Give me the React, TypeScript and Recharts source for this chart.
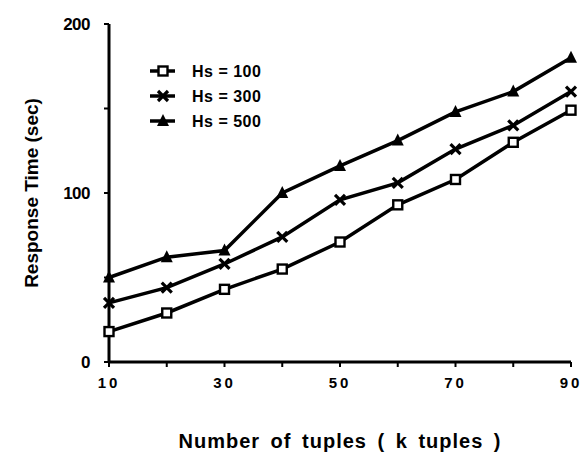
import { Legend, Line, LineChart, XAxis, YAxis } from "recharts";

const tuples = [10, 20, 30, 40, 50, 60, 70, 80, 90];
const hs100 = [18, 29, 43, 55, 71, 93, 108, 130, 149];
const hs300 = [35, 44, 58, 74, 96, 106, 126, 140, 160];
const hs500 = [50, 62, 66, 100, 116, 131, 148, 160, 180];
const xTicks = [10, 20, 30, 40, 50, 60, 70, 80, 90];
const xLabels = [10, 30, 50, 70, 90];
const yTicks = [0, 50, 100, 150, 200];
const yLabels = [0, 100, 200];
const seriesNames = ["Hs = 100", "Hs = 300", "Hs = 500"];

const rows = tuples.map((t, i) => ({ t, a: hs100[i], b: hs300[i], c: hs500[i] }));

const font = "'Liberation Sans', Arial, sans-serif";

function Square({ cx, cy }: any) {
  return <rect x={cx - 4.5} y={cy - 4.5} width={9} height={9} fill="#fff" stroke="#000" strokeWidth={2.4} />;
}

function Cross({ cx, cy }: any) {
  return (
    <g stroke="#000" strokeWidth={3.2}>
      <line x1={cx - 5} y1={cy - 5} x2={cx + 5} y2={cy + 5} />
      <line x1={cx - 5} y1={cy + 5} x2={cx + 5} y2={cy - 5} />
    </g>
  );
}

function Tri({ cx, cy }: any) {
  return <polygon points={`${cx},${cy - 7} ${cx - 6},${cy + 5} ${cx + 6},${cy + 5}`} fill="#000" />;
}

const markers = [Square, Cross, Tri];

function LegendBox() {
  return (
    <svg width={150} height={70}>
      {seriesNames.map((n, i) => {
        const M = markers[i];
        const y = 10 + i * 25;
        return (
          <g key={n}>
            <line x1={1} x2={26} y1={y} y2={y} stroke="#000" strokeWidth={3.5} />
            <M cx={14} cy={y} />
            <text x={43} y={y + 6} fontFamily={font} fontWeight="bold" fontSize={16} letterSpacing={0.5}>
              {n}
            </text>
          </g>
        );
      })}
    </svg>
  );
}

export default function App() {
  return (
    <div style={{ position: "absolute", left: 0, top: 0, background: "#fff" }}>
      <LineChart width={582} height={457} data={rows} margin={{ top: 24, right: 11, left: 0, bottom: 0 }}>
        <XAxis
          dataKey="t"
          type="number"
          domain={[10, 90]}
          ticks={xTicks}
          tickFormatter={(v: number) => (xLabels.includes(v) ? String(v) : "")}
          tick={{ fill: "#000", fontFamily: font, fontWeight: "bold", fontSize: 15, letterSpacing: 3, dy: 8 }}
          tickSize={5}
          axisLine={{ stroke: "#000", strokeWidth: 3 }}
          tickLine={{ stroke: "#000", strokeWidth: 2 }}
          height={95}
          label={{
            value: "Number of tuples ( k tuples )",
            position: "insideBottom",
            offset: 9,
            fill: "#000",
            fontFamily: font,
            fontWeight: "bold",
            fontSize: 20,
            letterSpacing: 1,
            wordSpacing: 4,
          }}
        />
        <XAxis xAxisId="top" orientation="top" type="number" domain={[10, 90]} dataKey="t" tick={false} tickLine={false} height={0} axisLine={{ stroke: "#000", strokeWidth: 3 }} />
        <YAxis
          type="number"
          domain={[0, 200]}
          ticks={yTicks}
          tickFormatter={(v: number) => (yLabels.includes(v) ? String(v) : "")}
          tick={{ fill: "#000", fontFamily: font, fontWeight: "bold", fontSize: 17, letterSpacing: -0.5, dx: -12 }}
          tickSize={5}
          axisLine={{ stroke: "#000", strokeWidth: 3 }}
          tickLine={{ stroke: "#000", strokeWidth: 2 }}
          width={109}
          label={{
            value: "Response Time (sec)",
            angle: -90,
            position: "insideLeft",
            offset: 31,
            style: { textAnchor: "middle" },
            fill: "#000",
            fontFamily: font,
            fontWeight: "bold",
            fontSize: 19,
          }}
        />
        <YAxis yAxisId="right" orientation="right" domain={[0, 200]} tick={false} tickLine={false} width={0} axisLine={{ stroke: "#000", strokeWidth: 3 }} />
        <Legend
          verticalAlign="middle"
          align="center"
          layout="vertical"
          wrapperStyle={{ left: 149, top: 61, width: 150 }}
          content={() => <LegendBox />}
        />
        <Line dataKey="a" name={seriesNames[0]} stroke="#000" strokeWidth={3.5} dot={<Square />} isAnimationActive={false} />
        <Line dataKey="b" name={seriesNames[1]} stroke="#000" strokeWidth={3.5} dot={<Cross />} isAnimationActive={false} />
        <Line dataKey="c" name={seriesNames[2]} stroke="#000" strokeWidth={3.5} dot={<Tri />} isAnimationActive={false} />
      </LineChart>
    </div>
  );
}
